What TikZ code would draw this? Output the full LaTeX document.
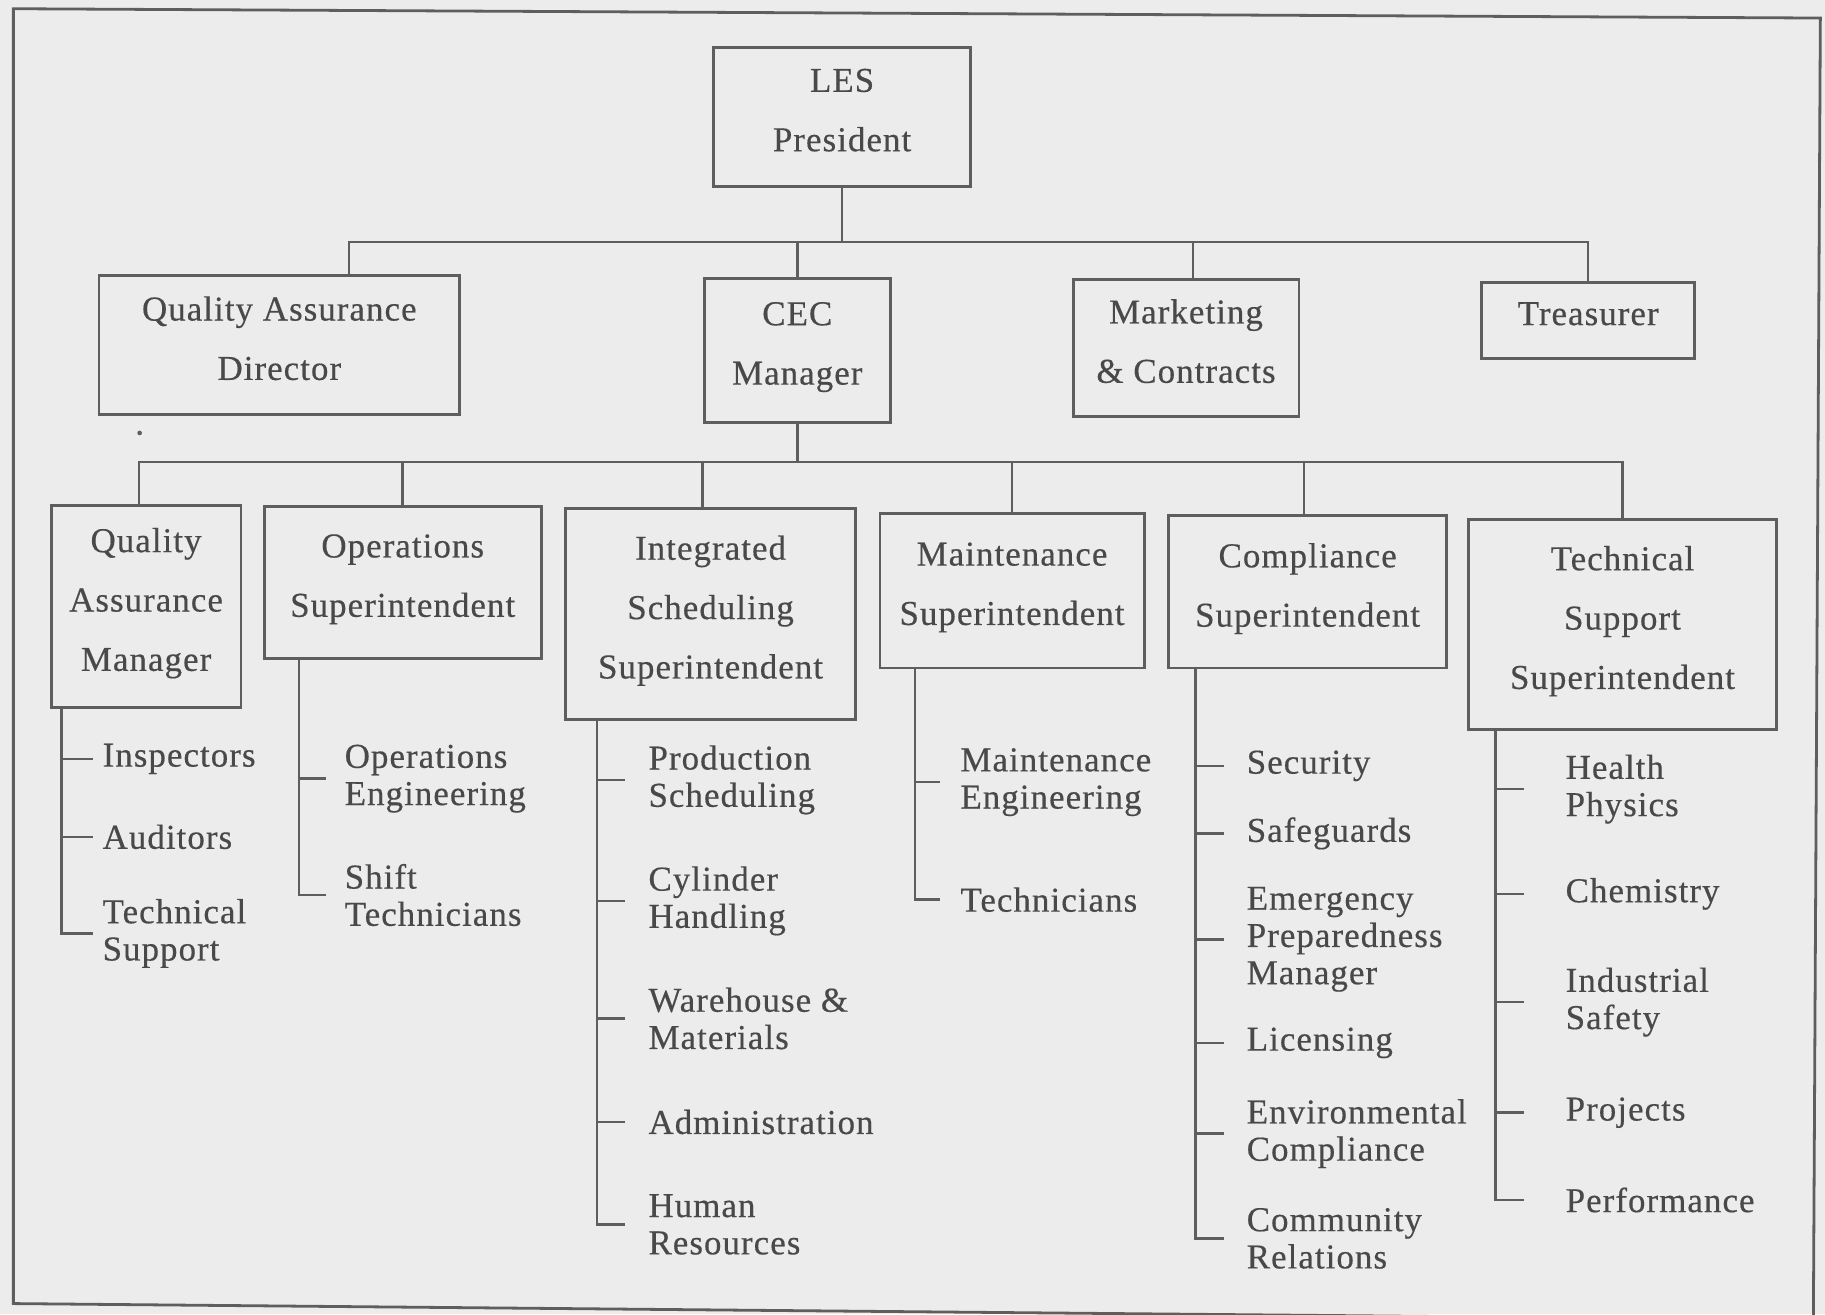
\documentclass[tikz,border=0pt]{standalone}
\usepackage{fontspec}
\setmainfont{Liberation Serif}[LetterSpace=3, FakeBold=0.4]
\definecolor{paper}{HTML}{ECECEC}
\definecolor{linegray}{HTML}{5E5E5E}
\definecolor{textgray}{HTML}{494949}
\newcommand\boxfont{\fontsize{30}{51}\selectfont}
\newcommand\itemfont{\fontsize{30}{32}\selectfont}
\begin{document}
\begin{tikzpicture}[x=1pt,y=-1pt,
  ink/.style={draw=linegray, line width=2.4pt},
  box/.style={ink, rectangle, inner sep=0pt, align=center, text depth=12pt, text=textgray, font=\boxfont},
  item/.style={anchor=west, inner sep=0pt, align=left, text=textgray, font=\itemfont},
  conn/.style={draw=linegray, line width=2.2pt},
]
\fill[paper] (0,0) rectangle (1568,1129);
\useasboundingbox (0,0) rectangle (1568,1129);

% outer frame
\draw[ink] (11.5,7.5) -- (1564,15.5) -- (1558,1134) -- (11.5,1120) -- cycle;

% top of the organisation
\node[box, minimum width=221, minimum height=119] (pres) at (723.5,100.5) {LES\\President};

\node[box, minimum width=310, minimum height=119] (qad) at (240,296.5) {Quality Assurance\\Director};
\node[box, minimum width=160, minimum height=124] (cec) at (685,301) {CEC\\Manager};
\node[box, minimum width=194, minimum height=118] (mkt) at (1019,299) {Marketing\\\& Contracts};
\node[box, minimum width=183, minimum height=65] (tre) at (1364.5,275.5) {Treasurer};

% departments under the CEC manager
\node[box, minimum width=163, minimum height=174] (qam) at (125.5,521) {Quality\\Assurance\\Manager};
\node[box, minimum width=238, minimum height=131] (ops) at (346,500.5) {Operations\\Superintendent};
\node[box, minimum width=249, minimum height=181] (isc) at (610.5,527.5) {Integrated\\Scheduling\\Superintendent};
\node[box, minimum width=227, minimum height=133] (mnt) at (869.5,507.5) {Maintenance\\Superintendent};
\node[box, minimum width=239, minimum height=131] (cmp) at (1123.5,508.5) {Compliance\\Superintendent};
\node[box, minimum width=264, minimum height=181] (tss) at (1394,536.5) {Technical\\Support\\Superintendent};

% first level bus
\coordinate (bus1) at (0,208);
\draw[conn] (pres.south) -- (pres.south |- bus1);
\draw[conn] ([xshift=60]qad.north) |- (tre.north |- bus1) -- (tre.north);
\draw[conn] (cec.north) -- (cec.north |- bus1);
\draw[conn] ([xshift=6]mkt.north) -- ([xshift=6]mkt.north |- bus1);

% second level bus
\coordinate (bus2) at (0,397);
\draw[conn] (cec.south) -- (cec.south |- bus2);
\draw[conn] ([xshift=-6]qam.north) |- (tss.north |- bus2) -- (tss.north);
\draw[conn] (ops.north) -- (ops.north |- bus2);
\draw[conn] ([xshift=-7]isc.north) -- ([xshift=-7]isc.north |- bus2);
\draw[conn] (mnt.north) -- (mnt.north |- bus2);
\draw[conn] ([xshift=-3]cmp.north) -- ([xshift=-3]cmp.north |- bus2);
\fill[linegray] (120,372) circle (2);

% quality assurance manager
\coordinate (vqa) at (53,0);
\node[item] (insp) at (88,652) {Inspectors};
\node[item] (aud) at (88,719) {Auditors};
\node[item] (qats) at (88,802) {Technical\\Support};
\draw[conn] (qam.south -| vqa) -- (vqa |- qats.west) -- ++(27,0);
\foreach \n in {insp,aud} \draw[conn] (vqa |- \n.west) -- ++(27,0);

% operations
\coordinate (vop) at (257,0);
\node[item] (openg) at (296,669) {Operations\\Engineering};
\node[item] (shift) at (296,769) {Shift\\Technicians};
\draw[conn] (ops.south -| vop) -- (vop |- shift.west) -- ++(23,0);
\draw[conn] (vop |- openg.west) -- ++(23,0);

% integrated scheduling
\coordinate (vis) at (513,0);
\node[item] (prod) at (557,670) {Production\\Scheduling};
\node[item] (cyl) at (557,774) {Cylinder\\Handling};
\node[item] (ware) at (557,875) {Warehouse \&\\Materials};
\node[item] (adm) at (557,964) {Administration};
\node[item] (hr) at (557,1052) {Human\\Resources};
\draw[conn] (isc.south -| vis) -- (vis |- hr.west) -- ++(24,0);
\foreach \n in {prod,cyl,ware,adm} \draw[conn] (vis |- \n.west) -- ++(24,0);

% maintenance
\coordinate (vmt) at (786,0);
\node[item] (meng) at (825,672) {Maintenance\\Engineering};
\node[item] (tech) at (825,773) {Technicians};
\draw[conn] (mnt.south -| vmt) -- (vmt |- tech.west) -- ++(22,0);
\draw[conn] (vmt |- meng.west) -- ++(22,0);

% compliance
\coordinate (vcp) at (1027,0);
\node[item] (sec) at (1071,658) {Security};
\node[item] (saf) at (1071,716) {Safeguards};
\node[item] (epm) at (1071,807) {Emergency\\Preparedness\\Manager};
\node[item] (lic) at (1071,896) {Licensing};
\node[item] (env) at (1071,974) {Environmental\\Compliance};
\node[item] (com) at (1071,1064) {Community\\Relations};
\draw[conn] (cmp.south -| vcp) -- (vcp |- com.west) -- ++(25,0);
\foreach \n in {sec,saf,epm,lic,env} \draw[conn] (vcp |- \n.west) -- ++(25,0);

% technical support
\coordinate (vts) at (1285,0);
\node[item] (hp) at (1345,678) {Health\\Physics};
\node[item] (chem) at (1345,768) {Chemistry};
\node[item] (ind) at (1345,861) {Industrial\\Safety};
\node[item] (proj) at (1345,956) {Projects};
\node[item] (perf) at (1345,1031) {Performance};
\draw[conn] (tss.south -| vts) -- (vts |- perf.west) -- ++(24,0);
\foreach \n in {hp,chem,ind,proj} \draw[conn] (vts |- \n.west) -- ++(24,0);
\end{tikzpicture}
\end{document}
